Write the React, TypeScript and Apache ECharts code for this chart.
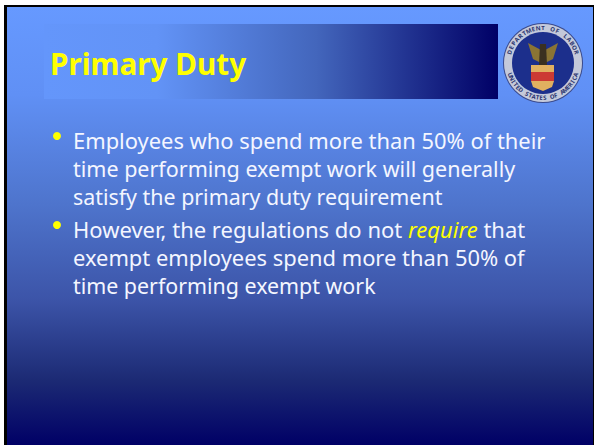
import React, { useEffect, useRef } from "react";
import * as echarts from "echarts";

const titleText = "Primary Duty";
const bulletOne = [
  "Employees who spend more than 50% of their",
  "time performing exempt work will generally",
  "satisfy the primary duty requirement",
];
const bulletTwo = [
  ["However, the regulations do not ", "require", " that"],
  ["exempt employees spend more than 50% of"],
  ["time performing exempt work"],
];
const bulletOneSizes = [21.9, 21.5, 21.4];
const bulletTwoSizes = [22, 21.9, 21.4];
const sealTop = "DEPARTMENT OF LABOR";
const sealBottom = "UNITED STATES OF AMERICA";

const FONT = "'Noto Sans', 'DejaVu Sans', sans-serif";
const CX = 543;
const CY = 63;

function arcLetters(word: string, radius: number, start: number, end: number, bottom: boolean) {
  const letters = word.split("");
  return letters.map((ch, i) => {
    const a = start + ((end - start) * i) / (letters.length - 1);
    const rad = (a * Math.PI) / 180;
    return {
      type: "text",
      x: CX + radius * Math.sin(rad),
      y: CY - radius * Math.cos(rad),
      rotation: bottom ? -(a + 180) * (Math.PI / 180) : -rad,
      style: {
        text: ch,
        fill: "#2a3470",
        font: `bold 6px ${FONT}`,
        textAlign: "center",
        textVerticalAlign: "middle",
      },
    };
  });
}

function bodyLines() {
  const out: any[] = [];
  const lineH = 28;
  bulletOne.forEach((t, i) => {
    out.push({
      type: "text",
      x: 73,
      y: 140 + i * lineH,
      style: { text: t, fill: "#f4f6ff", font: `${bulletOneSizes[i]}px ${FONT}`, textVerticalAlign: "middle" },
    });
  });
  bulletTwo.forEach((parts, i) => {
    const size = bulletTwoSizes[i];
    const text = parts.map((p, k) => `{${k === 1 ? "b" : "a"}|${p}}`).join("");
    out.push({
      type: "text",
      x: 73,
      y: 229 + i * lineH,
      style: {
        text,
        textVerticalAlign: "middle",
        rich: {
          a: { fill: "#f4f6ff", font: `${size}px ${FONT}` },
          b: { fill: "#ffff00", font: `italic ${size}px ${FONT}` },
        },
      },
    });
  });
  [136, 225].forEach((y) => {
    out.push({ type: "circle", shape: { cx: 57, cy: y, r: 4 }, style: { fill: "#ffff00" } });
  });
  return out;
}

function seal() {
  return [
    { type: "circle", shape: { cx: CX, cy: CY, r: 40 }, style: { fill: "#3a4a8c" } },
    { type: "circle", shape: { cx: CX, cy: CY, r: 39 }, style: { fill: "#c4c9da" } },
    { type: "circle", shape: { cx: CX, cy: CY, r: 31 }, style: { fill: "#1c2f8c" } },
    ...arcLetters(sealTop, 35, -72, 72, false),
    ...arcLetters(sealBottom, 35, 250, 110, true),
    // eagle wings and body
    { type: "polygon", shape: { points: [[528, 43], [541, 50], [541, 63], [533, 59]] }, style: { fill: "#8a7434" } },
    { type: "polygon", shape: { points: [[558, 43], [545, 50], [545, 63], [553, 59]] }, style: { fill: "#8a7434" } },
    { type: "polygon", shape: { points: [[540, 44], [546, 44], [547, 65], [539, 65]] }, style: { fill: "#3a3020" } },
    // shield
    { type: "rect", shape: { x: 531, y: 65, width: 23, height: 7 }, style: { fill: "#e0b060" } },
    { type: "rect", shape: { x: 531, y: 72, width: 23, height: 9 }, style: { fill: "#cc3a34" } },
    { type: "polygon", shape: { points: [[531, 81], [554, 81], [552, 87], [543, 91], [533, 87]] }, style: { fill: "#e0b060" } },
  ];
}

export default function App() {
  const ref = useRef<HTMLDivElement>(null);
  useEffect(() => {
    document.body.style.margin = "0";
    const chart = echarts.init(ref.current!, null, { renderer: "svg" });
    chart.setOption({
      animation: false,
      backgroundColor: "#ffffff",
      graphic: {
        elements: [
          { type: "rect", shape: { x: 4, y: 5, width: 590, height: 440 }, style: { fill: "#000000" } },
          {
            type: "rect",
            shape: { x: 7, y: 7, width: 586, height: 438 },
            style: {
              fill: new echarts.graphic.LinearGradient(0, 0, 0, 1, [
                { offset: 0, color: "#6699ff" },
                { offset: 0.2, color: "#6090f5" },
                { offset: 0.452, color: "#4e74cc" },
                { offset: 0.669, color: "#3c54a8" },
                { offset: 0.852, color: "#1c2a74" },
                { offset: 1, color: "#000066" },
              ]),
            },
          },
          {
            type: "rect",
            shape: { x: 44, y: 24, width: 454, height: 75 },
            style: {
              fill: new echarts.graphic.LinearGradient(0, 0, 1, 0, [
                { offset: 0, color: "#6496fb" },
                { offset: 0.25, color: "#6293f6" },
                { offset: 0.6, color: "#4366bc" },
                { offset: 1, color: "#000066" },
              ]),
            },
          },
          {
            type: "text",
            x: 50,
            y: 63,
            style: { text: titleText, fill: "#ffff00", font: `bold 29.7px ${FONT}`, textVerticalAlign: "middle" },
          },
          ...bodyLines(),
          ...seal(),
        ],
      },
    });
    return () => chart.dispose();
  }, []);
  return <div ref={ref} style={{ width: 594, height: 445 }} />;
}
